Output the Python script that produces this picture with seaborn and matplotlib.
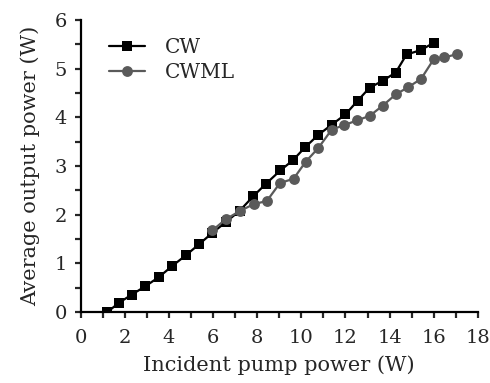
import matplotlib
matplotlib.use("Agg")
import matplotlib.pyplot as plt
import numpy as np
import pandas as pd
import seaborn as sns

cw_pump = [1.2, 1.72, 2.31, 2.92, 3.54, 4.15, 4.77, 5.35, 5.97, 6.58, 7.2, 7.82, 8.38,
           9.05, 9.62, 10.18, 10.77, 11.38, 12.0, 12.55, 13.1, 13.69, 14.28, 14.77, 15.42, 16.0]
cw_out = [0.0, 0.19, 0.36, 0.53, 0.72, 0.95, 1.17, 1.39, 1.63, 1.85, 2.08, 2.38, 2.63,
          2.91, 3.12, 3.39, 3.64, 3.85, 4.06, 4.34, 4.61, 4.75, 4.92, 5.29, 5.38, 5.53]
cwml_pump = [5.97, 6.58, 7.23, 7.85, 8.43, 9.03, 9.65, 10.2, 10.77, 11.38, 11.95, 12.54,
             13.1, 13.69, 14.28, 14.85, 15.43, 16.0, 16.49, 17.08]
cwml_out = [1.68, 1.91, 2.08, 2.22, 2.28, 2.65, 2.74, 3.09, 3.37, 3.75, 3.84, 3.94,
            4.03, 4.24, 4.47, 4.62, 4.79, 5.19, 5.23, 5.30]

x_ticks = [0, 2, 4, 6, 8, 10, 12, 14, 16, 18]
y_ticks = [0, 1, 2, 3, 4, 5, 6]

sns.set_style("ticks")
plt.rcParams["font.family"] = ["DejaVu Serif"]

df = pd.concat([
    pd.DataFrame({"pump": cw_pump, "out": cw_out, "mode": "CW"}),
    pd.DataFrame({"pump": cwml_pump, "out": cwml_out, "mode": "CWML"}),
])

fig = plt.figure(figsize=(4.9, 3.83), dpi=100)
ax = fig.add_axes([0.165, 0.185, 0.81, 0.763])

sns.lineplot(data=df[df["mode"] == "CW"], x="pump", y="out", color="black",
             marker="s", markersize=7, markeredgewidth=0, lw=1.6, label="CW", ax=ax)
sns.lineplot(data=df[df["mode"] == "CWML"], x="pump", y="out", color="#5a5a5a",
             marker="o", markersize=7.8, markeredgewidth=0, lw=1.6, label="CWML", ax=ax)

ax.set_xlim(0, 18)
ax.set_ylim(0, 6)
ax.set_xticks(x_ticks)
ax.set_yticks(y_ticks)
ax.set_xticks(np.arange(0, 18.5, 1), minor=True)
ax.set_yticks(np.arange(0, 6.25, 0.5), minor=True)
ax.tick_params(which="both", direction="out", length=4, width=1.6, labelsize=14)
ax.tick_params(axis="x", pad=8)
ax.tick_params(axis="y", pad=6)
for s in ["top", "right"]:
    ax.spines[s].set_visible(False)
for s in ["left", "bottom"]:
    ax.spines[s].set_linewidth(1.6)
    ax.spines[s].set_color("black")

ax.set_xlabel("Incident pump power (W)", fontsize=15, labelpad=6)
ax.set_ylabel("Average output power (W)", fontsize=15, labelpad=10)

ax.legend(loc="upper left", bbox_to_anchor=(0.04, 0.98), frameon=False, fontsize=14.5,
          handlelength=1.8, handletextpad=1.0, labelspacing=0.3, borderaxespad=0.2)

fig.savefig("out.png", dpi=100)
